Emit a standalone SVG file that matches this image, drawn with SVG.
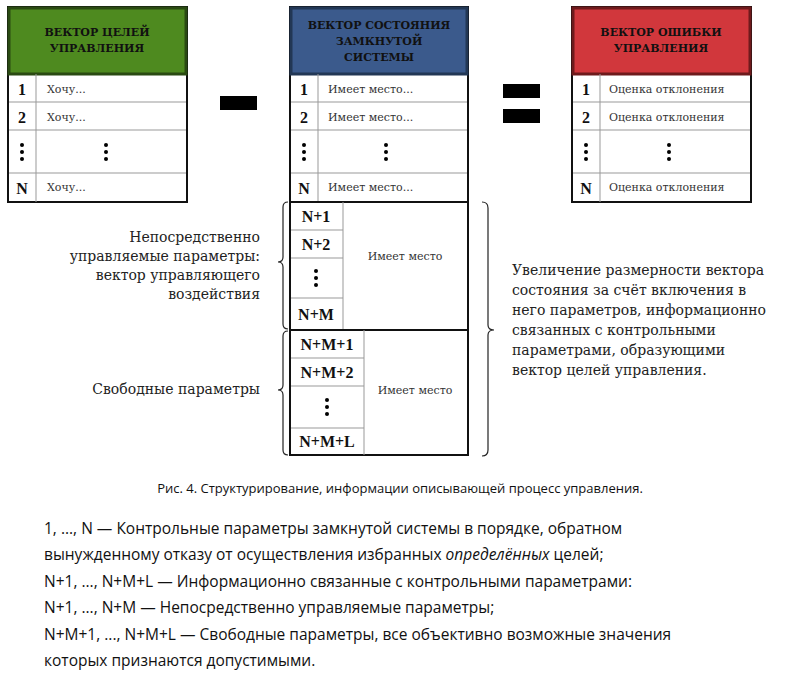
<svg xmlns="http://www.w3.org/2000/svg" width="801" height="681" viewBox="0 0 801 681">
<style>
.hd,.c,.cm,.lbl{font-family:"DejaVu Serif","Liberation Serif",serif}
.n{font-family:"Liberation Serif","DejaVu Serif",serif;font-weight:bold;font-size:16px;fill:#111;text-anchor:middle}
.hd{font-weight:bold;font-size:11px;fill:#111;text-anchor:middle}
.c{font-size:11px;fill:#333}
.cm{font-size:11px;fill:#333;text-anchor:middle}
.lbl{font-size:14px;fill:#222}
.cap{font-family:"Open Sans",sans-serif;font-size:13px;fill:#111;text-anchor:middle}
.bt{font-family:"Open Sans",sans-serif;font-size:15.5px;fill:#111}
.grid{stroke:#999;stroke-width:1;fill:none}
.box{fill:#fff;stroke:#111;stroke-width:2}
.br{fill:none;stroke:#222;stroke-width:1.2}
</style>
<defs>
<g id="dots"><circle cx="0" cy="-7" r="2"/><circle cx="0" cy="0" r="2"/><circle cx="0" cy="7" r="2"/></g>
</defs>
<rect width="801" height="681" fill="#fff"/>
<g id="goals">
<rect class="box" x="8" y="7" width="179" height="195"/>
<rect x="9" y="8" width="177" height="66" fill="#4e8a1f" stroke="#2a4a12" stroke-width="3"/>
<text class="hd" x="97" y="36">ВЕКТОР ЦЕЛЕЙ</text><text class="hd" x="97" y="52">УПРАВЛЕНИЯ</text>
<path class="grid" d="M36 74V202M9 102H186M9 130H186M9 173H186"/>
<text class="n" x="22" y="95">1</text><text class="n" x="22" y="123">2</text><use href="#dots" x="22" y="152"/><text class="n" x="22" y="194">N</text>
<text class="c" x="47" y="93">Хочу...</text><text class="c" x="47" y="121">Хочу...</text><use href="#dots" x="106" y="152"/><text class="c" x="47" y="191">Хочу...</text>
</g>
<g id="minus"><rect x="220" y="96" width="37" height="14" fill="#000"/></g>
<g id="state">
<rect class="box" x="290" y="7" width="178" height="195"/>
<rect x="291" y="8" width="176" height="66" fill="#3b5a8c" stroke="#223755" stroke-width="3"/>
<text class="hd" x="379" y="29">ВЕКТОР СОСТОЯНИЯ</text><text class="hd" x="379" y="45">ЗАМКНУТОЙ</text><text class="hd" x="379" y="61">СИСТЕМЫ</text>
<path class="grid" d="M318 74V202M291 102H467M291 130H467M291 173H467"/>
<text class="n" x="304" y="95">1</text><text class="n" x="304" y="123">2</text><use href="#dots" x="304" y="152"/><text class="n" x="304" y="194">N</text>
<text class="c" x="328" y="93">Имеет место...</text><text class="c" x="328" y="121">Имеет место...</text><use href="#dots" x="386" y="152"/><text class="c" x="328" y="191">Имеет место...</text>
</g>
<g id="equals"><rect x="503" y="84" width="37" height="14" fill="#000"/><rect x="503" y="109" width="37" height="14" fill="#000"/></g>
<g id="error">
<rect class="box" x="572" y="7" width="179" height="195"/>
<rect x="573" y="8" width="177" height="66" fill="#d1373c" stroke="#6e1a1c" stroke-width="3"/>
<text class="hd" x="661" y="36">ВЕКТОР ОШИБКИ</text><text class="hd" x="661" y="52">УПРАВЛЕНИЯ</text>
<path class="grid" d="M600 74V202M573 102H750M573 130H750M573 173H750"/>
<text class="n" x="586" y="95">1</text><text class="n" x="586" y="123">2</text><use href="#dots" x="586" y="152"/><text class="n" x="586" y="194">N</text>
<text class="c" x="609" y="93">Оценка отклонения</text><text class="c" x="609" y="121">Оценка отклонения</text><use href="#dots" x="669" y="152"/><text class="c" x="609" y="191">Оценка отклонения</text>
</g>
<g id="controlled">
<rect class="box" x="290" y="202" width="178" height="128"/>
<path class="grid" d="M343 202V330M291 230H343M291 258H343M291 298H343"/>
<text class="n" x="316" y="222">N+1</text><text class="n" x="316" y="250">N+2</text><use href="#dots" x="316" y="278"/><text class="n" x="316" y="320">N+M</text>
<text class="cm" x="405" y="260">Имеет место</text>
</g>
<g id="free">
<rect class="box" x="290" y="330" width="178" height="125"/>
<path class="grid" d="M364 330V455M291 358H364M291 386H364M291 428H364"/>
<text class="n" x="327" y="350">N+M+1</text><text class="n" x="327" y="378">N+M+2</text><use href="#dots" x="327" y="407"/><text class="n" x="327" y="447">N+M+L</text>
<text class="cm" x="415" y="394">Имеет место</text>
</g>
<g id="connectors">
<path class="br" d="M288 202q-5 0 -5 5v50q0 5 -5 5q5 0 5 5v57q0 5 5 5"/>
<path class="br" d="M288 331q-5 0 -5 5v49q0 5 -5 5q5 0 5 5v55q0 5 5 5"/>
<path class="br" d="M482 202q6 0 6 6v117q0 5 6 5q-6 0 -6 5v115q0 6 -6 6"/>
</g>
<g id="labels">
<text class="lbl" text-anchor="end" x="260" y="242">Непосредственно</text>
<text class="lbl" text-anchor="end" x="260" y="261">управляемые параметры:</text>
<text class="lbl" text-anchor="end" x="260" y="280">вектор управляющего</text>
<text class="lbl" text-anchor="end" x="260" y="299">воздействия</text>
<text class="lbl" text-anchor="end" x="260" y="394">Свободные параметры</text>
<text class="lbl" x="512" y="275">Увеличение размерности вектора</text>
<text class="lbl" x="512" y="295">состояния за счёт включения в</text>
<text class="lbl" x="512" y="315">него параметров, информационно</text>
<text class="lbl" x="512" y="335">связанных с контрольными</text>
<text class="lbl" x="512" y="355">параметрами, образующими</text>
<text class="lbl" x="512" y="375">вектор целей управления.</text>
<text class="cap" x="400" y="493">Рис. 4. Структурирование, информации описывающей процесс управления.</text>
<text class="bt" x="44" y="534">1, ..., N — Контрольные параметры замкнутой системы в порядке, обратном</text>
<text class="bt" x="44" y="560">вынужденному отказу от осуществления избранных <tspan font-style="italic">определённых</tspan> целей;</text>
<text class="bt" x="44" y="587">N+1, ..., N+M+L — Информационно связанные с контрольными параметрами:</text>
<text class="bt" x="44" y="613">N+1, ..., N+M — Непосредственно управляемые параметры;</text>
<text class="bt" x="44" y="640">N+M+1, ..., N+M+L — Свободные параметры, все объективно возможные значения</text>
<text class="bt" x="44" y="666">которых признаются допустимыми.</text>
</g>
</svg>
